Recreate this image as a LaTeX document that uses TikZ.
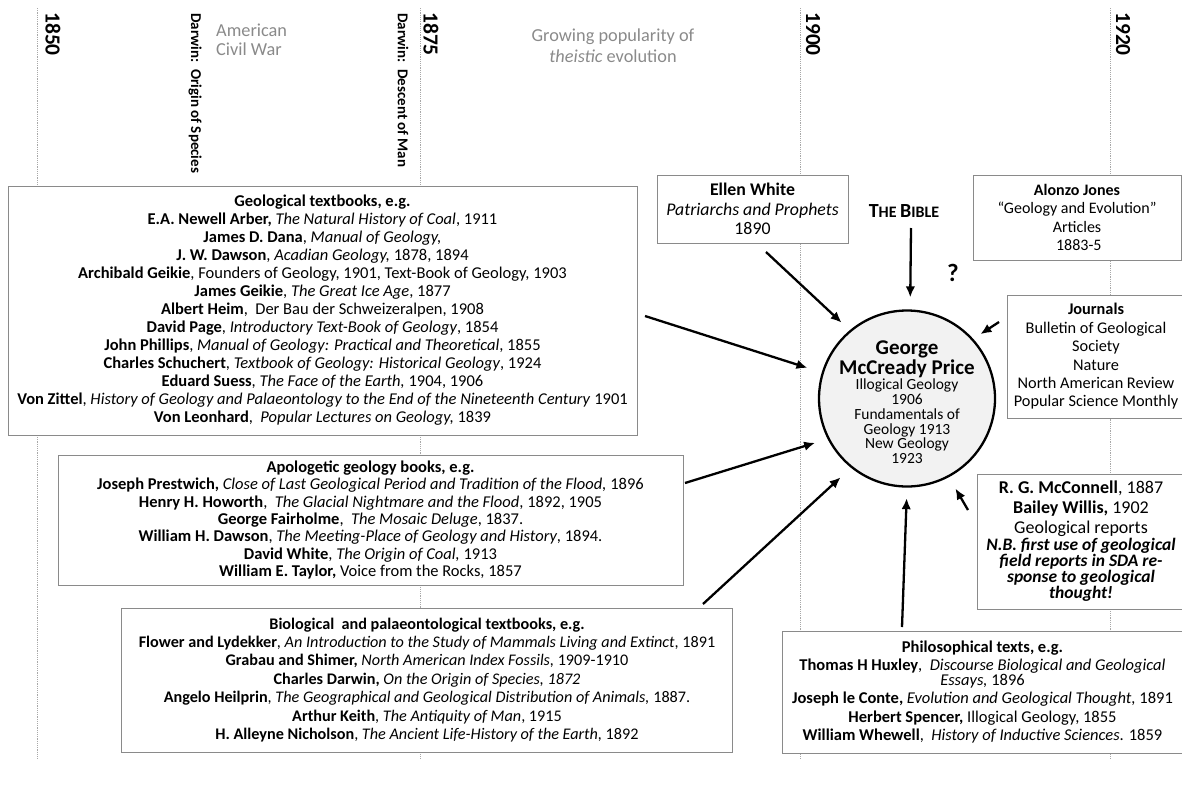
\documentclass[tikz,border=0pt]{standalone}
\usepackage{fontspec}
\setmainfont{Carlito}
\usetikzlibrary{arrows.meta}
\definecolor{boxgray}{HTML}{8A8A8A}
\definecolor{linegray}{HTML}{A8A8A8}
\definecolor{notegray}{HTML}{8A8A8A}
\definecolor{circfill}{HTML}{F2F2F2}

\begin{document}
\begin{tikzpicture}[x=1pt,y=-1pt,
  yearline/.style={linegray, line width=0.7pt, dash pattern=on 1.2pt off 1pt},
  yearlbl/.style={rotate=-90, anchor=west, inner sep=0pt, font=\fontsize{21.5}{22}\selectfont\bfseries},
  eventlbl/.style={rotate=-90, anchor=west, inner sep=0pt, font=\fontsize{15}{16}\selectfont\bfseries},
  eralbl/.style={notegray, inner sep=0pt},
  srcbox/.style={draw=boxgray, line width=1pt, fill=white, align=flush center, inner sep=0pt},
  infl/.style={line width=2.3pt, -{Latex[length=11pt,width=9.5pt]}}
]
\useasboundingbox (0,0) rectangle (1182,787);

% timeline grid
\draw[yearline] (37,8) -- (37,760);
\draw[yearline] (420,8) -- (420,760);
\draw[yearline] (800,8) -- (800,760);
\draw[yearline] (1110,8) -- (1110,760);

\node[yearlbl] (y1850) at (53,12) {1850};
\node[yearlbl] (y1875) at (431,12) {1875};
\node[yearlbl] (y1900) at (813,12) {1900};
\node[yearlbl] (y1920) at (1123,12) {1920};
\node[eventlbl] (origin) at (195,13) {Darwin:\ \ Origin of Species};
\node[eventlbl] (descent) at (403,13) {Darwin:\ \ Descent of Man};

\node[eralbl, anchor=north west, text width=90pt, align=flush left, font=\fontsize{18.3}{18.5}\selectfont] (civilwar) at (216,24) {American\\Civil War\par};
\node[eralbl, text width=200pt, align=flush center, font=\fontsize{18.3}{21}\selectfont] (theistic) at (613,46) {Growing popularity of\\\textit{theistic} evolution\par};

% central figure: the disc, then its text on top
\node[circle, draw=black, line width=2.3pt, fill=circfill, minimum size=176pt, inner sep=0pt] (price) at (907,398.5) {};
\node[inner sep=0pt, text width=170pt, align=flush center, font=\fontsize{15.5}{14.8}\selectfont] (pricetext) at (907,402.5)
  {{\fontsize{21}{20}\selectfont\bfseries George\\McCready Price\par}
   Illogical Geology\\1906\\Fundamentals of\\Geology 1913\\New Geology\\1923\par};

% sources
\node[srcbox, text width=629pt, minimum height=249pt, font=\fontsize{16.5}{18}\selectfont] (geo) at (322.5,310.5)
{\textbf{Geological textbooks, e.g.}\\
\textbf{E.A. Newell Arber,} \textit{The Natural History of Coal}, 1911\\
\textbf{James D. Dana}, \textit{Manual of Geology,}\\
\textbf{J. W. Dawson}, \textit{Acadian Geology,} 1878, 1894\\
\textbf{Archibald Geikie}, Founders of Geology, 1901, Text-Book of Geology, 1903\\
\textbf{James Geikie}, \textit{The Great Ice Age}, 1877\\
\textbf{Albert Heim}, \ Der Bau der Schweizeralpen, 1908\\
\textbf{David Page}, \textit{Introductory Text-Book of Geology}, 1854\\
\textbf{John Phillips}, \textit{Manual of Geology: Practical and Theoretical}, 1855\\
\textbf{Charles Schuchert}, \textit{Textbook of Geology: Historical Geology}, 1924\\
\textbf{Eduard Suess}, \textit{The Face of the Earth,} 1904, 1906\\
\textbf{Von Zittel}, \textit{History of Geology and Palaeontology to the End of the Nineteenth Century} 1901\\
\textbf{Von Leonhard}, \ \textit{Popular Lectures on Geology,} 1839\par};

\node[srcbox, text width=625pt, minimum height=130pt, font=\fontsize{16.5}{17.3}\selectfont] (apol) at (370.5,520)
{\textbf{Apologetic geology books, e.g.}\\
\textbf{Joseph Prestwich,} \textit{Close of Last Geological Period and Tradition of the Flood,} 1896\\
\textbf{Henry H. Howorth}, \ \textit{The Glacial Nightmare and the Flood}, 1892, 1905\\
\textbf{George Fairholme}, \ \textit{The Mosaic Deluge}, 1837.\\
\textbf{William H. Dawson}, \textit{The Meeting-Place of Geology and History}, 1894.\\
\textbf{David White}, \textit{The Origin of Coal,} 1913\\
\textbf{William E. Taylor,} Voice from the Rocks, 1857\par};

\node[srcbox, text width=611pt, minimum height=144pt, font=\fontsize{16.2}{18.4}\selectfont] (bio) at (427,680)
{\textbf{Biological \ and palaeontological textbooks, e.g.}\\
\textbf{Flower and Lydekker}, \textit{An Introduction to the Study of Mammals Living and Extinct}, 1891\\
\textbf{Grabau and Shimer,} \textit{North American Index Fossils,} 1909-1910\\
\textbf{Charles Darwin,} \textit{On the Origin of Species, 1872}\\
\textbf{Angelo Heilprin}, \textit{The Geographical and Geological Distribution of Animals,} 1887.\\
\textbf{Arthur Keith}, \textit{The Antiquity of Man}, 1915\\
\textbf{H. Alleyne Nicholson}, \textit{The Ancient Life-History of the Earth,} 1892\par};

\node[srcbox, text width=191pt, minimum height=68pt, font=\fontsize{17.8}{19.5}\selectfont] (ellen) at (752.5,209)
{\textbf{Ellen White}\\\textit{Patriarchs and Prophets}\\1890\par};

\node[inner sep=0pt, font=\fontsize{20}{20}\selectfont\bfseries] (bible) at (904,211)
{T\fontsize{16}{16}\selectfont HE \fontsize{20}{20}\selectfont B\fontsize{16}{16}\selectfont IBLE};

\node[srcbox, text width=208pt, minimum height=85pt, font=\fontsize{16}{18.5}\selectfont] (alonzo) at (1077,217.5)
{\textbf{Alonzo Jones}\\``Geology and Evolution''\\Articles\\\ 1883-5\par};

\node[inner sep=0pt, font=\fontsize{25}{25}\selectfont\bfseries] (query) at (953,273) {?};

\node[srcbox, text width=178pt, minimum height=123pt, font=\fontsize{16.3}{18.4}\selectfont] (journals) at (1096,356.5)
{\textbf{Journals}\\Bulletin of Geological\\Society\\Nature\\North American Review\\Popular Science Monthly\par};

\node[srcbox, text width=208pt, minimum height=135pt, font=\fontsize{18}{20}\selectfont] (reports) at (1081,541.5)
{\textbf{R. G. McConnell}, 1887\\
\textbf{Bailey Willis,} 1902\\
Geological reports\par
{\fontsize{17.5}{15}\selectfont\bfseries\itshape N.B. first use of geological\\field reports in SDA re-\\sponse to geological\\thought!\par}};

\node[srcbox, text width=401pt, minimum height=122pt, font=\fontsize{16.5}{18.5}\selectfont] (philo) at (982.5,692)
{\textbf{Philosophical texts, e.g.}\\
\textbf{Thomas H Huxley}, \ \textit{Discourse Biological and Geological}\\[-4pt]
\textit{Essays,} 1896\\
\textbf{Joseph le Conte,} \textit{Evolution and Geological Thought,} 1891\\
\textbf{Herbert Spencer,} Illogical Geology, 1855\\
\textbf{William Whewell}, \ \textit{History of Inductive Sciences}. 1859\par};

% tails of the influence arrows
\coordinate (tGeo) at (645,316);
\coordinate (tEllen) at (766,252);
\coordinate (tBible) at (911,228);
\coordinate (tJour) at (999,322);
\coordinate (tApol) at (685,483);
\coordinate (tBio) at (703,604);
\coordinate (tPhilo) at (902,627);
\coordinate (tRep) at (968,510);

\draw[infl, shorten >=15pt] (tGeo) -- (price.163.9);
\draw[infl, shorten >=11pt] (tEllen) -- (price.130.3);
\draw[infl, shorten >=12pt] (tBible) -- (price.88.9);
\draw[infl, shorten >=8.5pt] (tJour) -- (price.42.7);
\draw[infl, shorten >=13pt] (tApol) -- (price.207.3);
\draw[infl, shorten >=14pt] (tBio) -- (price.231.2);
\draw[infl, shorten >=10.5pt] (tPhilo) -- (price.270);
\draw[infl, shorten >=13pt] (tRep) -- (price.298.2);
\end{tikzpicture}
\end{document}
